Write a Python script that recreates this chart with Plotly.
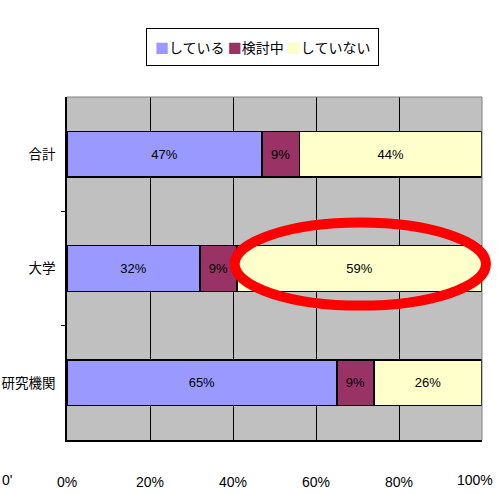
import plotly.graph_objects as go

categories = ["研究機関", "大学", "合計"]
series_names = ["している", "検討中", "していない"]
doing = [65, 32, 47]
considering = [9, 9, 9]
not_doing = [26, 59, 44]
x_ticks = [0, 20, 40, 60, 80, 100]
x_tick_labels = ["0%", "20%", "40%", "60%", "80%", "100%"]

colors = ["#9999ff", "#993366", "#ffffcc"]
num_font = "Liberation Sans, Arial, sans-serif"
jp_font = "Noto Sans CJK JP, sans-serif"

fig = go.Figure()
for name, vals, col in zip(series_names, [doing, considering, not_doing], colors):
    fig.add_trace(go.Bar(
        y=categories, x=vals, name=name, orientation="h",
        marker=dict(color=col, line=dict(color="black", width=1.5)),
        text=[f"{v}%" for v in vals], textposition="inside",
        insidetextanchor="middle", textangle=0,
        textfont=dict(family=num_font, size=13, color="black"),
        width=0.4, hoverinfo="skip", showlegend=False,
    ))

legend_text = "".join(
    f"<span style='color:{c}'>■</span>{n} " for n, c in zip(series_names, colors)
).strip()

# last tick label is placed right-aligned at the page edge so it is not clipped
axis_labels = x_tick_labels[:-1] + [""]

fig.update_layout(
    barmode="stack",
    width=497, height=494,
    margin=dict(l=67, r=15, t=97, b=54, autoexpand=False),
    paper_bgcolor="white",
    plot_bgcolor="#c0c0c0",
    showlegend=False,
    xaxis=dict(
        range=[0, 100], tickvals=x_ticks, ticktext=axis_labels,
        showgrid=True, gridcolor="black", gridwidth=1,
        showline=True, linecolor="black", linewidth=1.5,
        ticks="outside", ticklen=0, ticklabelstandoff=28,
        ticklabeloverflow="allow",
        tickfont=dict(family=num_font, size=14, color="black"),
        zeroline=False, mirror=False, fixedrange=True, automargin=False,
    ),
    yaxis=dict(
        range=[-0.5, 2.5], categoryorder="array", categoryarray=categories,
        showgrid=False, showline=True, linecolor="black", linewidth=1.5,
        ticks="", tickfont=dict(family=jp_font, size=13.5, color="black"),
        ticklabelstandoff=7, fixedrange=True, automargin=False,
        minor=dict(ticks="outside", ticklen=4, tickcolor="black", tickvals=[0.5, 1.5]),
    ),
    shapes=[
        dict(type="line", xref="paper", yref="paper", x0=0, x1=1, y0=1, y1=1,
             line=dict(color="#808080", width=1)),
        dict(type="line", xref="paper", yref="paper", x0=1, x1=1, y0=0, y1=1,
             line=dict(color="#808080", width=1)),
        dict(type="circle", xref="paper", yref="paper", layer="above",
             x0=0.404, x1=1.0096, y0=0.392, y1=0.634,
             line=dict(color="red", width=10)),
    ],
    annotations=[
        dict(text=legend_text, xref="paper", yref="paper", x=0.471, y=1.2,
             xanchor="center", yanchor="top", showarrow=False,
             bordercolor="black", borderwidth=1, borderpad=8, bgcolor="white",
             font=dict(family=jp_font, size=14, color="black")),
        dict(text="0'", xref="paper", yref="paper", x=-0.161, y=-0.116,
             xanchor="left", yanchor="middle", showarrow=False,
             font=dict(family=num_font, size=14, color="black")),
        dict(text=x_tick_labels[-1], xref="paper", yref="paper", x=1.0325, y=-0.116,
             xanchor="right", yanchor="middle", showarrow=False,
             font=dict(family=num_font, size=14, color="black")),
    ],
)

fig.write_html(
    "out.html",
    config={"displayModeBar": False},
    post_script="document.body.style.margin='0';document.body.style.overflow='hidden';",
)
